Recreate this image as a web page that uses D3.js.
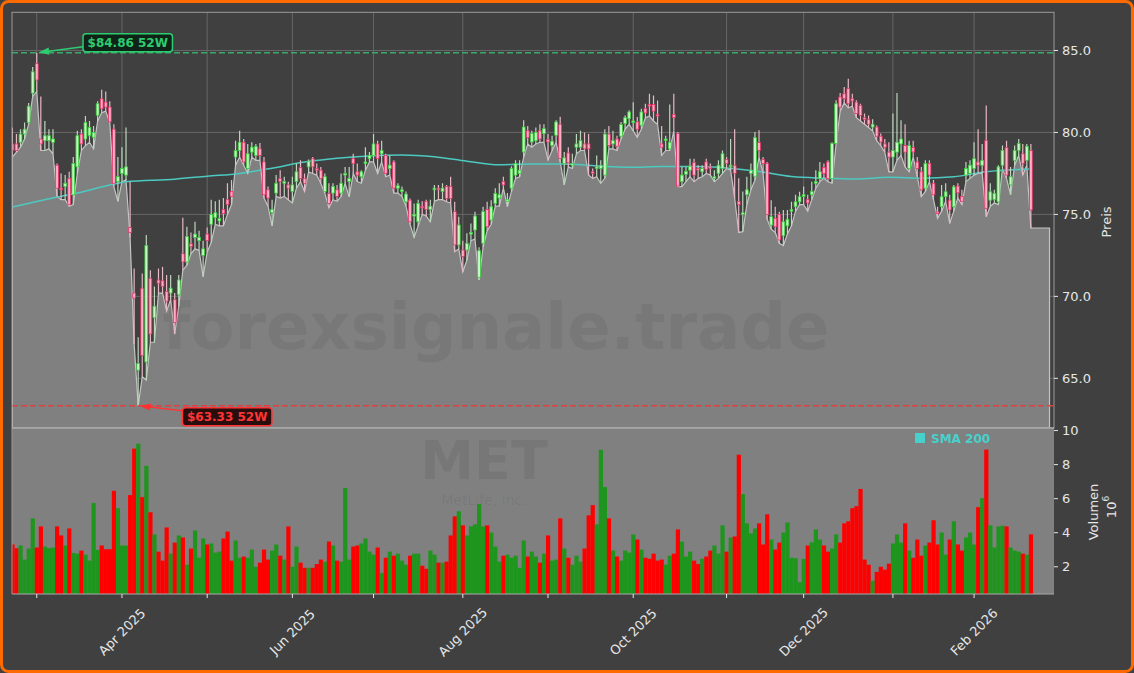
<!DOCTYPE html>
<html><head><meta charset="utf-8">
<script src="https://cdn.jsdelivr.net/npm/d3@7/dist/d3.min.js"></script>
<style>
html,body{margin:0;padding:0;background:#404040;}
svg{display:block;font-family:"DejaVu Sans",sans-serif;}
</style></head><body>
<svg id="c" width="1134" height="673"></svg>
<script>
// ---------- DATA (MET, daily, Feb 2025 - Feb 2026) ----------
const opens=[79.3,79.3,79.4,79.9,80.6,82.4,84.2,79.6,79.5,79.5,
79.4,78.0,76.6,76.7,77.2,76.2,77.9,79.9,79.6,79.8,
79.7,81.05,82.05,81.85,81.55,80.2,77.0,77.5,77.4,74.2,
70.2,65.5,70.5,66.0,71.1,68.7,71.0,70.95,70.3,70.2,
69.8,70.1,72.6,72.1,73.2,73.6,73.4,72.5,73.8,74.4,
74.8,74.6,75.3,75.9,76.4,78.5,78.9,79.4,77.8,78.8,
78.6,79.0,78.2,76.5,75.1,76.3,77.2,76.9,76.8,76.4,
77.0,77.86,77.2,77.9,78.4,77.8,77.7,76.4,76.28,76.3,
76.5,76.3,77.4,77.0,78.4,77.6,77.3,78.1,78.4,78.6,
79.3,78.7,78.6,77.8,78.2,76.6,76.4,75.77,75.87,74.9,
74.55,75.5,75.8,75.3,76.5,76.6,76.4,76.7,76.7,75.17,
73.14,72.83,72.83,73.8,74.05,71.17,73.24,75.3,74.66,75.67,
76.0,77.0,75.8,76.6,77.4,77.5,78.81,80.1,79.42,79.5,
80.1,79.93,79.58,79.2,79.83,80.5,78.1,78.75,78.0,79.1,
79.1,79.3,79.3,77.6,77.8,77.8,77.4,79.9,79.3,79.6,
79.77,80.54,80.84,80.6,80.64,80.44,81.45,81.7,81.7,81.1,
79.3,79.5,79.0,81.1,79.93,77.0,77.45,77.7,78.16,77.8,
77.6,78.2,77.9,77.2,77.5,77.8,78.35,77.9,78.0,75.8,
75.0,76.2,77.5,77.33,79.38,78.35,78.1,74.35,74.76,75.0,
73.7,74.3,75.2,75.47,75.77,76.1,75.9,76.2,76.9,77.2,
77.86,78.2,77.19,79.32,82.16,82.36,82.67,82.06,81.85,81.65,
80.9,80.78,80.33,80.33,79.77,79.3,78.8,78.5,78.8,79.3,
79.2,77.8,79.08,78.2,77.6,76.6,78.1,76.9,75.16,75.47,
76.08,75.87,75.47,76.73,76.1,77.4,77.5,77.8,78.2,78.0,
79.52,75.87,75.9,75.77,78.0,79.08,76.8,78.3,78.9,78.7,78.3,78.9];
const closes=[78.9,78.9,79.9,80.2,81.6,83.7,83.2,79.3,79.8,79.8,
79.6,76.6,76.5,76.9,75.6,78.1,79.8,79.3,80.6,80.3,
80.0,81.75,81.45,81.55,80.65,76.9,77.3,77.8,77.9,73.9,
69.9,65.9,66.4,73.1,67.7,69.4,70.8,70.6,69.7,70.5,
68.4,71.0,72.1,73.65,73.05,73.8,73.6,72.9,73.4,75.0,
75.1,74.75,75.05,75.6,76.1,78.9,79.4,78.2,78.7,79.1,
79.15,78.6,76.2,76.0,75.3,76.9,77.0,77.0,76.6,76.8,
77.6,77.19,76.9,78.25,77.9,77.7,77.2,77.3,75.67,76.7,
76.1,76.9,77.5,77.2,78.1,77.4,77.6,78.2,78.6,79.3,
78.4,78.9,77.5,78.0,76.6,76.75,76.5,76.24,74.55,75.0,
75.67,75.4,75.3,75.5,76.6,76.5,76.6,75.97,75.97,73.14,
74.35,72.43,73.24,73.9,74.9,72.79,75.17,74.25,75.47,76.28,
76.2,76.8,75.9,77.8,78.1,77.7,80.33,79.7,79.93,80.0,
79.6,80.23,79.42,79.46,80.64,78.41,78.45,78.15,78.1,79.3,
79.5,79.0,79.0,77.5,77.9,78.0,79.9,79.2,79.5,79.16,
80.48,80.9,81.25,80.7,80.2,81.25,81.19,81.6,81.3,81.0,
79.1,79.6,79.4,80.9,76.73,77.4,77.63,77.94,77.4,77.7,
77.8,77.74,77.8,77.3,78.0,78.7,78.1,78.0,77.5,75.6,
75.1,76.5,77.7,79.68,78.9,78.1,75.0,74.86,74.25,73.44,
74.55,74.7,75.3,75.77,76.08,76.2,75.7,76.4,77.0,77.6,
77.5,77.19,79.32,81.75,81.55,82.06,81.75,81.92,81.15,81.04,
80.8,80.5,80.5,79.77,79.42,79.1,78.5,78.9,79.4,79.6,
78.8,79.2,78.81,77.8,76.5,78.1,77.4,76.2,75.06,76.08,
76.38,75.27,76.68,76.32,75.8,77.8,78.0,78.4,78.0,78.3,
75.37,76.38,76.28,77.9,78.9,77.4,77.3,78.9,79.32,78.1,79.16,75.27];
const highs=[80.3,79.9,80.2,80.6,81.8,84.0,84.86,82.2,80.7,80.2,
80.2,78.1,77.5,77.4,77.6,78.5,80.1,80.2,81.0,80.7,
80.4,81.9,82.6,82.5,81.9,80.5,78.5,79.1,80.3,77.0,
71.7,67.5,71.4,73.75,71.6,70.6,71.7,71.8,71.3,71.3,
70.2,71.3,74.8,74.25,73.9,74.55,74.0,73.4,74.2,75.9,
75.8,75.9,76.0,76.9,77.1,79.5,80.1,79.6,79.3,79.4,
79.3,79.35,78.5,76.7,75.9,77.4,77.7,77.3,77.0,77.3,
78.1,78.3,77.5,78.35,78.5,78.1,77.9,77.5,76.9,76.9,
76.8,77.5,77.9,77.9,78.7,78.1,77.7,79.1,78.8,79.9,
79.5,79.5,78.7,78.6,78.3,76.9,76.7,76.4,75.97,75.67,
75.9,75.8,75.9,75.9,76.8,76.8,76.9,76.8,77.3,75.77,
74.86,73.4,73.85,74.45,75.17,73.0,75.47,75.77,75.87,76.6,
76.9,77.3,76.3,77.94,78.3,78.3,80.74,80.4,80.1,80.3,
80.5,80.5,79.9,79.8,80.74,80.96,78.8,79.1,78.7,79.9,
80.1,80.0,79.9,77.8,78.6,78.3,80.2,80.4,80.1,79.8,
80.64,81.04,81.35,81.85,80.94,81.45,81.75,82.36,82.26,81.95,
80.4,79.8,81.7,82.36,80.03,77.9,77.9,78.4,78.4,78.0,
78.0,78.4,78.1,77.7,78.3,78.9,78.5,79.6,80.2,77.2,
76.4,77.3,78.1,80.03,80.13,78.5,78.2,75.87,75.47,75.17,
75.27,75.27,75.77,76.2,76.38,76.7,76.2,77.0,77.7,78.2,
78.1,78.3,79.4,81.96,82.4,82.77,83.27,82.36,81.96,81.75,
81.15,81.04,80.8,80.43,79.93,79.6,79.4,81.15,82.4,80.74,
80.5,79.5,79.5,78.5,77.9,78.3,78.3,77.1,75.47,76.8,
76.9,76.2,76.8,76.9,76.5,78.2,78.3,79.4,80.2,79.3,
81.65,76.9,76.5,78.0,79.2,79.5,77.9,79.2,79.6,79.3,79.3,79.3];
const lows=[78.5,78.8,79.1,79.6,80.5,82.2,82.5,78.9,78.9,79.0,
78.7,76.1,75.9,75.9,75.5,75.6,77.5,78.9,79.2,79.4,
79.0,80.7,81.2,81.3,80.6,76.7,75.8,77.0,77.1,73.6,
67.1,63.33,65.1,64.9,67.2,67.2,70.2,70.2,69.1,69.8,
67.7,69.4,71.6,71.9,72.6,72.9,72.8,71.2,72.7,73.3,
74.4,74.3,74.3,75.0,75.6,78.0,78.5,78.0,77.5,78.5,
78.3,78.3,76.0,75.5,74.3,76.1,76.0,76.1,75.9,75.7,
76.6,77.0,76.4,77.6,77.5,77.4,76.9,76.3,75.4,75.9,
75.8,76.1,76.9,76.07,77.5,77.0,76.9,77.7,78.2,78.2,
77.5,78.2,77.3,77.4,76.3,76.3,76.1,75.5,74.4,73.6,
74.3,75.0,74.9,74.55,75.8,75.9,75.9,75.77,75.7,72.73,
72.9,71.5,72.2,73.4,73.5,71.0,73.0,74.0,74.4,75.5,
75.5,76.6,75.47,76.4,77.2,77.3,78.5,79.3,79.1,79.3,
79.4,79.4,78.31,78.9,79.4,78.2,76.8,77.9,77.8,78.7,
78.9,78.9,77.4,77.2,77.3,76.9,77.2,79.0,79.0,78.9,
79.6,80.2,80.5,80.1,79.7,80.2,80.9,81.0,80.7,80.5,
78.6,78.9,78.9,80.1,76.7,76.7,77.0,77.3,77.0,77.2,
77.3,77.5,77.4,77.0,77.2,77.5,77.8,77.7,76.0,73.9,
73.95,75.6,76.5,77.1,78.5,77.5,74.7,74.1,73.9,73.24,
73.1,73.8,74.3,75.2,75.6,75.6,75.2,75.9,76.6,77.0,
77.2,77.0,76.9,79.3,81.3,81.8,81.5,81.6,80.9,80.7,
80.5,80.3,80.1,79.5,79.2,78.8,77.6,77.6,78.3,78.6,
77.9,77.6,78.5,77.3,76.08,76.4,77.0,75.9,74.76,75.2,
75.8,74.45,75.2,76.0,75.6,77.0,77.2,77.4,77.5,77.5,
74.86,75.5,75.7,75.6,77.8,77.2,76.2,78.0,78.6,77.4,78.0,74.17];
// volume in millions
const volumes=[3.31,3.09,3.25,2.42,3.07,4.84,3.13,4.37,3.19,3.09,
3.13,4.37,3.84,3.25,4.25,2.81,2.77,2.95,2.71,2.36,
5.74,2.99,3.25,3.03,3.03,6.46,5.44,3.25,3.25,6.21,
8.94,9.23,6.09,7.93,5.2,3.9,2.89,2.36,4.31,2.77,
3.42,3.84,3.72,2.12,3.07,4.13,2.53,3.66,3.31,3.37,
2.83,2.89,3.66,4.07,2.36,3.54,2.53,2.6,2.53,3.01,
2.0,2.24,3.01,2.42,2.95,3.31,2.65,2.42,4.37,2.0,
3.19,2.24,1.94,1.94,1.94,2.16,2.42,2.3,3.48,3.25,
2.36,2.3,6.63,2.42,3.19,3.25,3.37,3.66,2.89,2.71,
3.13,1.64,2.53,2.89,2.65,2.77,2.36,2.12,2.65,2.77,
2.77,2.06,1.88,2.95,2.71,2.24,2.24,2.3,3.84,4.96,
5.26,4.43,3.84,4.37,4.49,5.68,4.37,4.43,4.01,3.19,
2.3,2.65,2.71,2.53,2.65,1.94,3.54,2.6,2.89,2.6,
2.24,2.77,3.84,2.36,2.42,4.84,3.07,2.53,2.12,2.65,
2.3,3.07,5.02,5.62,4.49,8.87,6.68,4.84,2.95,2.6,
2.36,2.95,2.83,3.9,3.6,3.01,2.53,2.47,2.77,2.36,
2.42,2.12,2.65,2.77,4.19,3.48,2.6,2.89,2.36,2.16,
2.47,2.6,2.95,3.25,2.77,4.43,2.89,3.72,3.78,8.58,
6.27,4.55,3.96,4.25,4.55,3.31,5.08,3.6,3.01,3.42,
4.01,4.6,2.53,2.5,1.1,2.46,3.25,3.44,4.19,3.6,
3.25,2.89,3.07,3.9,3.42,4.55,4.67,5.44,5.56,6.57,
2.42,2.12,1.17,1.7,2.0,1.83,2.18,3.37,3.9,3.42,
4.55,2.95,2.53,3.6,2.65,3.25,3.42,4.73,3.31,4.01,
2.71,3.6,4.67,3.31,2.95,3.72,4.01,3.31,5.5,6.03,
8.88,4.43,3.13,4.37,4.41,4.37,3.13,2.95,2.89,2.77,2.71,3.9];
// SMA 200 read at selected bar indices
const smaIdx=[0,8,16,24,28,40,48,56,64,72,80,88,96,104,112,120,128,136,144,152,160,168,176,184,192,200,208,216,224,232,240,251];
const smaVal=[75.45,75.9,76.3,76.8,77.0,77.15,77.33,77.5,77.82,78.2,78.43,78.57,78.63,78.52,78.25,78.03,78.08,78.08,77.96,77.88,77.92,77.92,77.83,77.62,77.31,77.21,77.16,77.26,77.21,77.3,77.6,77.77];
// x-axis: first trading day of each month (bar index) and labels
const monthIdx=[6,27,48,69,89,111,132,153,176,195,217,237];
const monthLabels=["","Apr 2025","","Jun 2025","","Aug 2025","","Oct 2025","","Dec 2025","","Feb 2026"];
const priceTicks=[65,70,75,80,85];
const volTicks=[2,4,6,8,10];
const ticker="MET", company="MetLife, Inc.", watermark="forexsignale.trade";
const smaLabel="SMA 200";

// ---------- LAYOUT ----------
const W=1134,H=673;
const L=12,R=1054,pTop=12.3,pBot=428,vTop=428,vBot=594;
const svg=d3.select('#c');
svg.append('rect').attr('x',1.5).attr('y',1.5).attr('width',W-3).attr('height',H-3).attr('rx',7)
  .attr('fill','#404040').attr('stroke','#ff6a00').attr('stroke-width',3);

const N=closes.length;
const x=d3.scaleLinear().domain([-0.1,256.7]).range([L,R]);
const yP=d3.scaleLinear().domain([61.97,87.33]).range([pBot,pTop]);
const yV=d3.scaleLinear().domain([0.4,10.15]).range([vBot,vTop]);
const bw=x(1)-x(0);

const defs=svg.append('defs');
defs.append('clipPath').attr('id','cp').append('rect').attr('x',L).attr('y',pTop).attr('width',R-L).attr('height',pBot-pTop);
defs.append('clipPath').attr('id','cv').append('rect').attr('x',L).attr('y',vTop).attr('width',R-L).attr('height',vBot-vTop);
function marker(id,col){
  defs.append('marker').attr('id',id).attr('viewBox','0 0 10 10').attr('refX',9).attr('refY',5)
   .attr('markerWidth',7).attr('markerHeight',7).attr('orient','auto')
   .append('path').attr('d','M0,1.5 L10,5 L0,8.5 z').attr('fill',col);
}
marker('ag','#2ecc71'); marker('ar','#ff3030');

// ---------- PRICE PANEL ----------
const gp=svg.append('g').attr('clip-path','url(#cp)');
gp.selectAll('.gx').data(monthIdx).join('line').attr('x1',d=>x(d)).attr('x2',d=>x(d))
  .attr('y1',pTop).attr('y2',pBot).attr('stroke','#666666').attr('stroke-width',1);
gp.selectAll('.gy').data(priceTicks).join('line').attr('x1',L).attr('x2',R)
  .attr('y1',d=>yP(d)).attr('y2',d=>yP(d)).attr('stroke','#666666').attr('stroke-width',1);
// area under lows (extended flat a few bars past the last candle)
const areaPad=4.6;
const areaData=lows.map((v,i)=>[i,v]).concat([[N-1+areaPad,lows[N-1]]]);
gp.append('path').datum(areaData)
  .attr('d',d3.area().x(d=>x(d[0])).y0(pBot).y1(d=>yP(d[1])))
  .attr('fill','#808080').attr('stroke','#c4c4c4').attr('stroke-width',1.2);
// watermark
gp.append('text').attr('x',496).attr('y',349).attr('text-anchor','middle')
  .attr('font-size',64).attr('font-weight','bold').attr('fill','rgba(0,0,0,0.06)').text(watermark);
// SMA
gp.append('path').datum(smaIdx.map((d,k)=>[d,smaVal[k]]))
  .attr('d',d3.line().curve(d3.curveMonotoneX).x(d=>x(d[0])).y(d=>yP(d[1])))
  .attr('fill','none').attr('stroke','#4cc9c0').attr('stroke-width',1.5);
// candles
const cd=d3.range(N).map(i=>({i,o:opens[i],h:highs[i],l:lows[i],c:closes[i],up:closes[i]>=opens[i]}));
const cg=gp.append('g');
cg.selectAll('line').data(cd).join('line')
  .attr('x1',d=>x(d.i)).attr('x2',d=>x(d.i)).attr('y1',d=>yP(d.h)).attr('y2',d=>yP(d.l))
  .attr('stroke',d=>d.up?'#bcd6bc':'#e6b8c4').attr('stroke-width',1.2);
cg.selectAll('rect').data(cd).join('rect')
  .attr('x',d=>x(d.i)-1.4).attr('width',2.8)
  .attr('y',d=>yP(Math.max(d.o,d.c)))
  .attr('height',d=>Math.max(1.2,Math.abs(yP(d.o)-yP(d.c))))
  .attr('fill',d=>d.up?'#c9f5c9':'#ffb0c4').attr('stroke',d=>d.up?'#38cf38':'#e8336b').attr('stroke-width',0.8);

// 52W high/low
const hiI=d3.maxIndex(highs), loI=d3.minIndex(lows);
const hiV=highs[hiI], loV=lows[loI];
svg.append('line').attr('x1',L).attr('x2',R).attr('y1',yP(hiV)).attr('y2',yP(hiV))
  .attr('stroke','#3aa86a').attr('stroke-width',1.5).attr('stroke-dasharray','6,3');
svg.append('line').attr('x1',L).attr('x2',R).attr('y1',yP(loV)).attr('y2',yP(loV))
  .attr('stroke','#e04040').attr('stroke-width',1.5).attr('stroke-dasharray','6,3');

function annot(idx,val,dx,dy,col,fill,mk){
  const tx=x(idx), ty=yP(val);
  const cx=tx+dx, cy=ty+dy;
  const g=svg.append('g');
  const t=g.append('text').attr('x',cx).attr('y',cy).attr('text-anchor','middle').attr('dominant-baseline','central')
    .attr('font-size',12).attr('font-weight','bold').attr('fill',col).text('$'+val.toFixed(2)+' 52W');
  const w=t.node().getComputedTextLength()+9, h=18;
  g.insert('rect','text').attr('x',cx-w/2).attr('y',cy-h/2).attr('width',w).attr('height',h).attr('rx',3)
    .attr('fill',fill).attr('stroke',col).attr('stroke-width',1.5);
  const sx=cx-w/2, sy=cy+(dy<0?4:-6);
  const ang=Math.atan2(ty-sy,tx-sx);
  svg.append('line').attr('x1',sx).attr('y1',sy).attr('x2',tx-3*Math.cos(ang)).attr('y2',ty-3*Math.sin(ang))
    .attr('stroke',col).attr('stroke-width',1.5).attr('marker-end','url(#'+mk+')');
}
annot(hiI,hiV,91,-10,'#2ecc71','#0f2417','ag');
annot(loI,loV,89,11,'#ff3535','#2a0e0e','ar');

svg.append('rect').attr('x',L).attr('y',pTop).attr('width',R-L).attr('height',pBot-pTop)
  .attr('fill','none').attr('stroke','#9a9a9a').attr('stroke-width',1);

// ---------- VOLUME PANEL ----------
svg.append('rect').attr('x',L).attr('y',vTop).attr('width',R-L).attr('height',vBot-vTop).attr('fill','#808080');
const gv=svg.append('g').attr('clip-path','url(#cv)');
gv.append('text').attr('x',484).attr('y',479).attr('text-anchor','middle').attr('font-size',54)
  .attr('font-weight','bold').attr('fill','rgba(0,0,0,0.07)').text(ticker);
gv.append('text').attr('x',484).attr('y',505).attr('text-anchor','middle').attr('font-size',14)
  .attr('fill','rgba(0,0,0,0.07)').text(company);
gv.selectAll('rect.v').data(cd).join('rect').attr('class','v')
  .attr('x',d=>x(d.i)-bw/2).attr('width',bw+0.15)
  .attr('y',d=>yV(volumes[d.i])).attr('height',d=>yV(0)-yV(volumes[d.i]))
  .attr('fill',d=>d.up?'#1e961e':'#ff0000');
svg.append('rect').attr('x',915).attr('y',433).attr('width',10).attr('height',10).attr('fill','#48d1cc');
svg.append('text').attr('x',931).attr('y',442.5).attr('font-size',12).attr('font-weight','bold')
  .attr('fill','#48d1cc').text(smaLabel);
svg.append('line').attr('x1',L).attr('x2',L).attr('y1',vTop).attr('y2',vBot).attr('stroke','#9a9a9a');
svg.append('line').attr('x1',L).attr('x2',R).attr('y1',vBot).attr('y2',vBot).attr('stroke','#aaaaaa');
svg.append('line').attr('x1',L).attr('x2',R).attr('y1',vTop).attr('y2',vTop).attr('stroke','#aaaaaa').attr('stroke-width',1.5);

// ---------- AXES ----------
const tc='#e6e6e6';
const ax=svg.append('g');
priceTicks.forEach(v=>{
  ax.append('line').attr('x1',R).attr('x2',R+4).attr('y1',yP(v)).attr('y2',yP(v)).attr('stroke',tc);
  ax.append('text').attr('x',R+8).attr('y',yP(v)).attr('dominant-baseline','central').attr('font-size',13)
    .attr('fill',tc).text(d3.format('.1f')(v));
});
volTicks.forEach(v=>{
  ax.append('line').attr('x1',R).attr('x2',R+4).attr('y1',yV(v)).attr('y2',yV(v)).attr('stroke',tc);
  ax.append('text').attr('x',R+8).attr('y',yV(v)).attr('dominant-baseline','central').attr('font-size',13)
    .attr('fill',tc).text(v);
});
ax.append('text').attr('transform','translate(1106,222) rotate(-90)').attr('text-anchor','middle')
  .attr('dominant-baseline','central').attr('font-size',13).attr('fill',tc).text('Preis');
ax.append('text').attr('transform','translate(1093,512) rotate(-90)').attr('text-anchor','middle')
  .attr('dominant-baseline','central').attr('font-size',13).attr('fill',tc).text('Volumen');
const t6=ax.append('text').attr('transform','translate(1111,507) rotate(-90)').attr('text-anchor','middle')
  .attr('dominant-baseline','central').attr('font-size',13).attr('fill',tc);
t6.append('tspan').text('10');
t6.append('tspan').attr('dy',-5).attr('font-size',9).text('6');
monthIdx.forEach((m,k)=>{
  ax.append('line').attr('x1',x(m)).attr('x2',x(m)).attr('y1',vBot).attr('y2',vBot+4).attr('stroke',tc);
  if(monthLabels[k]) ax.append('text').attr('transform','translate('+x(m)+',632) rotate(-45)')
    .attr('text-anchor','middle').attr('dominant-baseline','central').attr('font-size',13).attr('fill',tc).text(monthLabels[k]);
});
</script></body></html>
